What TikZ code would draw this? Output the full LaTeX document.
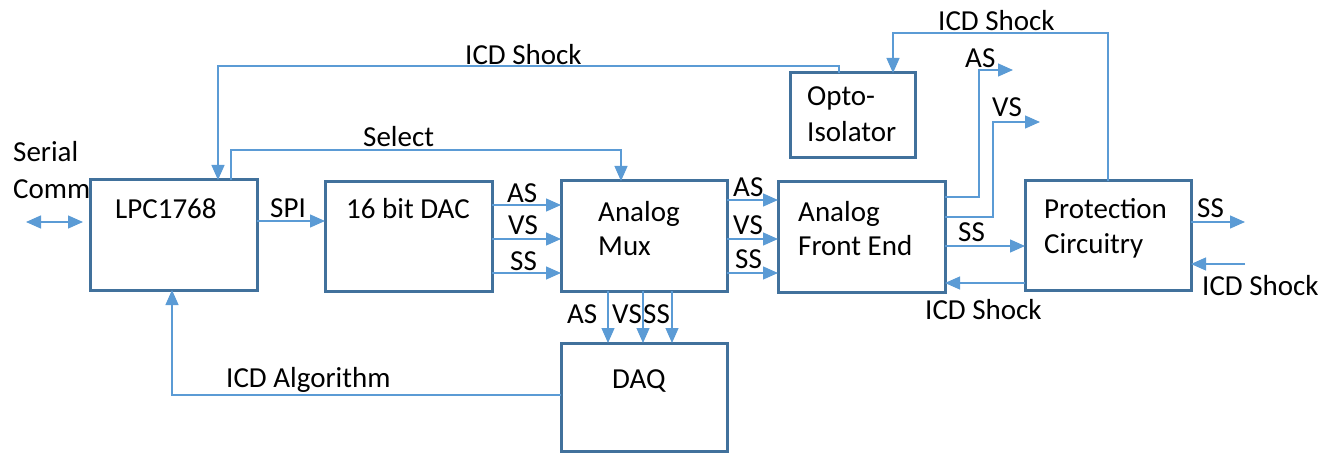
\documentclass[tikz,border=0pt]{standalone}
\usepackage{fontspec}
\setmainfont{Carlito}
\usetikzlibrary{arrows.meta}
\definecolor{boxline}{HTML}{41719C}
\definecolor{wire}{HTML}{5B9BD5}
\begin{document}
\begin{tikzpicture}[x=1pt,y=-1pt,
  block/.style={draw=boxline,line width=3pt,rectangle,inner sep=0pt,outer sep=0pt,anchor=north west},
  conn/.style={draw=wire,line width=1.3pt,-{Triangle[length=15pt,width=13pt]}},
  biconn/.style={draw=wire,line width=1.3pt,{Triangle[length=15pt,width=13pt]}-{Triangle[length=15pt,width=13pt]}},
  lbl/.style={font=\fontsize{29}{34}\selectfont,inner sep=0pt,anchor=base west,text=black}]
\useasboundingbox (0,0) rectangle (1335,454);

% blocks
\node[block,minimum width=167pt,minimum height=110pt] (lpc)  at (90,180)  {};
\node[block,minimum width=167pt,minimum height=109pt] (dac)  at (325,182) {};
\node[block,minimum width=166pt,minimum height=110pt] (mux)  at (561,181) {};
\node[block,minimum width=167pt,minimum height=110pt] (afe)  at (778,182) {};
\node[block,minimum width=166pt,minimum height=109pt] (prot) at (1025,181) {};
\node[block,minimum width=125pt,minimum height=85pt]  (opto) at (790,73)  {};
\node[block,minimum width=166pt,minimum height=108pt] (daq)  at (561,343) {};

% block titles
\node[lbl] (tlpc)  at (115,219) {LPC1768};
\node[lbl] (tdac)  at (346,219) {16 bit DAC};
\node[lbl] (tmux1) at (598,222) {Analog};
\node[lbl] (tmux2) at (598,255) {Mux};
\node[lbl] (tafe1) at (798,222) {Analog};
\node[lbl] (tafe2) at (798,255) {Front End};
\node[lbl] (tpro1) at (1044,219) {Protection};
\node[lbl] (tpro2) at (1044,254) {Circuitry};
\node[lbl] (topt1) at (807,106) {Opto-};
\node[lbl] (topt2) at (807,142) {Isolator};
\node[lbl] (tdaq)  at (612,388) {DAQ};

% bend points and free ends
\coordinate (serL) at (26,222);
\coordinate (serR) at (83,222);
\coordinate (ySPI) at (0,221);
\coordinate (selL) at (231,150);
\coordinate (selR) at (621,150);
\coordinate (shAL) at (218,66);
\coordinate (shAR) at (839,66);
\coordinate (shBL) at (893,33);
\coordinate (shBR) at (1108,33);
\coordinate (dAS) at (0,205);
\coordinate (dVS) at (0,239);
\coordinate (dSS) at (0,273);
\coordinate (mAS) at (0,200);
\coordinate (mVS) at (0,239);
\coordinate (mSS) at (0,273);
\coordinate (qAS) at (608,0);
\coordinate (qVS) at (643,0);
\coordinate (qSS) at (672,0);
\coordinate (asB1) at (979,197);
\coordinate (asB2) at (979,70);
\coordinate (asEnd) at (1013,70);
\coordinate (vsB1) at (993,217);
\coordinate (vsB2) at (993,122);
\coordinate (vsEnd) at (1040,122);
\coordinate (pSS) at (0,246);
\coordinate (pICD) at (0,283);
\coordinate (ssOut) at (1245,222);
\coordinate (icdIn) at (1245,264);
\coordinate (algB) at (172,395);

% connectors
\draw[biconn] (serL) -- (serR);
\draw[conn] (lpc.east |- ySPI) -- (dac.west |- ySPI);
\draw[conn] (lpc.north -| selL) -- (selL) -- (selR) -- (mux.north -| selR);
\draw[conn] (opto.north -| shAR) -- (shAR) -- (shAL) -- (lpc.north -| shAL);
\draw[conn] (prot.north -| shBR) -- (shBR) -- (shBL) -- (opto.north -| shBL);

\draw[conn] (dac.east |- dAS) -- (mux.west |- dAS);
\draw[conn] (dac.east |- dVS) -- (mux.west |- dVS);
\draw[conn] (dac.east |- dSS) -- (mux.west |- dSS);

\draw[conn] (mux.east |- mAS) -- (afe.west |- mAS);
\draw[conn] (mux.east |- mVS) -- (afe.west |- mVS);
\draw[conn] (mux.east |- mSS) -- (afe.west |- mSS);

\draw[conn] (mux.south -| qAS) -- (daq.north -| qAS);
\draw[conn] (mux.south -| qVS) -- (daq.north -| qVS);
\draw[conn] (mux.south -| qSS) -- (daq.north -| qSS);

\draw[conn] (afe.east |- asB1) -- (asB1) -- (asB2) -- (asEnd);
\draw[conn] (afe.east |- vsB1) -- (vsB1) -- (vsB2) -- (vsEnd);
\draw[conn] (afe.east |- pSS) -- (prot.west |- pSS);
\draw[conn] (prot.west |- pICD) -- (afe.east |- pICD);
\draw[conn] (prot.east |- ssOut) -- (ssOut);
\draw[conn] (icdIn) -- (prot.east |- icdIn);
\draw[conn] (daq.west |- algB) -- (algB) -- (lpc.south -| algB);

% connector labels
\node[lbl] (lser1) at (13,162) {Serial};
\node[lbl] (lser2) at (13,199) {Comm};
\node[lbl] (lspi)  at (270,218) {SPI};
\node[lbl] (lsel)  at (363,147) {Select};
\node[lbl] (lshA)  at (465,65) {ICD Shock};
\node[lbl] (lshB)  at (938,31) {ICD Shock};
\node[lbl] (ldAS)  at (507,203) {AS};
\node[lbl] (ldVS)  at (508,235) {VS};
\node[lbl] (ldSS)  at (510,270) {SS};
\node[lbl] (lmAS)  at (733,197) {AS};
\node[lbl] (lmVS)  at (733,235) {VS};
\node[lbl] (lmSS)  at (735,269) {SS};
\node[lbl] (lqAS)  at (567,323) {AS};
\node[lbl] (lqVS)  at (612,323) {VS};
\node[lbl] (lqSS)  at (643,323) {SS};
\node[lbl] (laAS)  at (965,68) {AS};
\node[lbl] (laVS)  at (992,117) {VS};
\node[lbl] (lpSS)  at (958,242) {SS};
\node[lbl] (lpICD) at (925,319) {ICD Shock};
\node[lbl] (loSS)  at (1197,218) {SS};
\node[lbl] (liICD) at (1202,295) {ICD Shock};
\node[lbl] (lalg)  at (226,387) {ICD Algorithm};
\end{tikzpicture}
\end{document}
